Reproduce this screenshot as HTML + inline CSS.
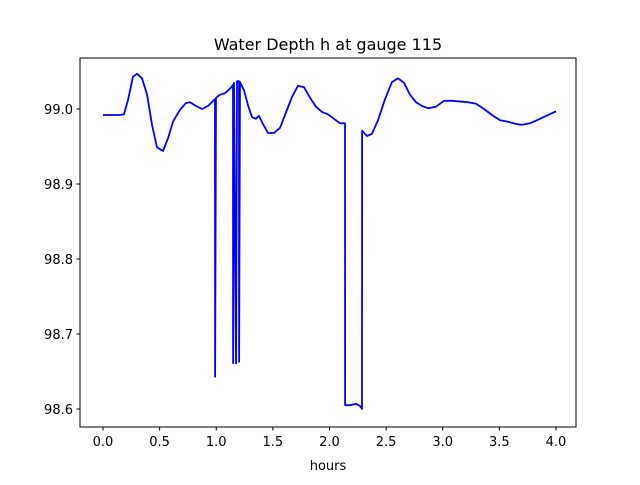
<!DOCTYPE html>
<html><head><meta charset="utf-8"><style>
body{margin:0;background:#fff;}
svg text{font-family:"DejaVu Sans","Liberation Sans",sans-serif;fill:#000;}
</style></head><body>
<svg id="chart" width="640" height="480" xmlns="http://www.w3.org/2000/svg">
<rect width="640" height="480" fill="#fff"/>
<text x="328" y="50" font-size="16" text-anchor="middle">Water Depth h at gauge 115</text>
<text x="328" y="470" font-size="13" text-anchor="middle">hours</text>
<g id="xt"></g>
<g id="yt"></g>
<polyline id="line" fill="none" stroke="#0000ff" stroke-width="1.8" stroke-linejoin="round"/>
<rect x="80" y="58" width="496" height="369" fill="none" stroke="#000" stroke-width="1"/>
</svg>
<script>
const hours=[0,0.150,0.185,0.221,0.265,0.300,0.344,0.389,0.433,0.477,0.530,0.574,0.618,0.680,0.733,0.768,0.821,0.874,0.927,0.980,0.989,0.990,0.998,1.033,1.077,1.121,1.148,1.149,1.157,1.174,1.175,1.183,1.201,1.202,1.210,1.245,1.280,1.316,1.351,1.377,1.413,1.457,1.510,1.563,1.607,1.669,1.722,1.775,1.828,1.881,1.934,1.987,2.040,2.093,2.137,2.138,2.181,2.234,2.269,2.287,2.288,2.331,2.375,2.428,2.490,2.552,2.605,2.658,2.711,2.764,2.817,2.870,2.940,3.011,3.082,3.223,3.294,3.364,3.435,3.506,3.576,3.647,3.700,3.770,3.859,4.000];
const depth=[98.992,98.992,98.993,99.012,99.043,99.047,99.041,99.019,98.979,98.949,98.944,98.961,98.983,98.999,99.008,99.009,99.004,99.000,99.004,99.012,99.013,98.643,99.015,99.019,99.021,99.027,99.032,98.661,99.035,98.661,98.661,99.037,99.037,98.663,99.036,99.025,99.005,98.989,98.987,98.991,98.980,98.968,98.968,98.975,98.992,99.016,99.031,99.029,99.015,99.003,98.996,98.993,98.987,98.981,98.981,98.605,98.605,98.607,98.604,98.600,98.971,98.964,98.967,98.985,99.013,99.036,99.041,99.035,99.019,99.009,99.004,99.001,99.003,99.011,99.011,99.009,99.007,99.000,98.992,98.985,98.983,98.980,98.979,98.981,98.987,98.997];
const xTicks=["0.0","0.5","1.0","1.5","2.0","2.5","3.0","3.5","4.0"];
const yTicks=["98.6","98.7","98.8","98.9","99.0"];
const NS="http://www.w3.org/2000/svg";
function X(t){return 103+t*113.25;}
function Y(h){return 109+(99-h)*750;}
const pts=hours.map((t,i)=>X(t).toFixed(1)+","+Y(depth[i]).toFixed(1)).join(" ");
document.getElementById("line").setAttribute("points",pts);
const xt=document.getElementById("xt"),yt=document.getElementById("yt");
xTicks.forEach(s=>{const x=X(parseFloat(s));
 const l=document.createElementNS(NS,"line");
 
 
 l.setAttribute("x1",x);l.setAttribute("x2",x);l.setAttribute("y1",427);l.setAttribute("y2",430.5);l.setAttribute("stroke","#000");xt.appendChild(l);
 const t=document.createElementNS(NS,"text");
 
 
 t.setAttribute("x",x);t.setAttribute("y",446);t.setAttribute("font-size","13");t.setAttribute("text-anchor","middle");t.textContent=s;xt.appendChild(t);});
yTicks.forEach(s=>{const y=Y(parseFloat(s));
 const l=document.createElementNS(NS,"line");
 
 
 l.setAttribute("x1",76.5);l.setAttribute("x2",80);l.setAttribute("y1",y);l.setAttribute("y2",y);l.setAttribute("stroke","#000");yt.appendChild(l);
 const t=document.createElementNS(NS,"text");
 
 
 t.setAttribute("x",73);t.setAttribute("y",y+5);t.setAttribute("font-size","13");t.setAttribute("text-anchor","end");t.textContent=s;yt.appendChild(t);});
</script>
</body></html>
